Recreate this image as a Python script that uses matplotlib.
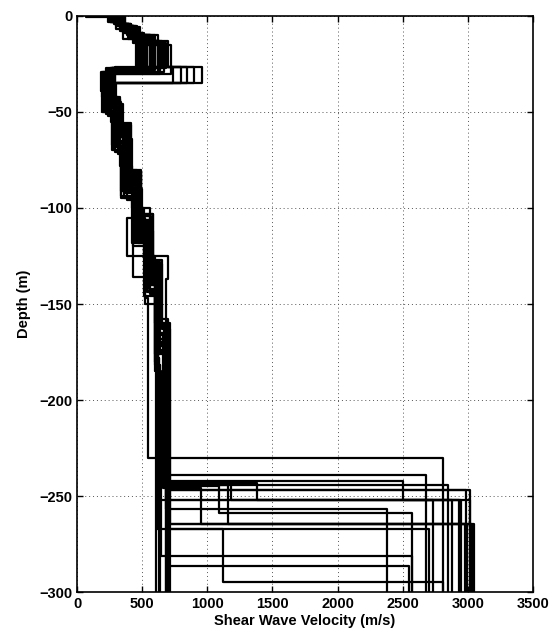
import numpy as np
import matplotlib
matplotlib.use("Agg")
import matplotlib.pyplot as plt

# layer tops (m below surface) and shear-wave velocities (m/s), one pair per profile
tops_01 = [0, 5, 10, 27, 35, 44, 60, 85, 105, 117, 136, 147, 230]
vs_01 = [320, 410, 600, 270, 240, 320, 380, 450, 520, 432, 525, 542, 2811]
tops_02 = [0, 4, 12, 28, 36, 48, 66, 88, 105, 125, 137, 196, 239]
vs_02 = [290, 390, 520, 250, 220, 300, 360, 470, 383, 700, 680, 650, 2679]
tops_03 = [0, 6, 14, 26.5, 35, 42, 58, 80, 100, 130, 160, 243, 252]
vs_03 = [350, 430, 480, 740, 260, 310, 390, 460, 560, 610, 620, 1380, 2876]
tops_04 = [0, 3, 9, 26.5, 35, 45, 62, 84, 108, 135, 170, 244]
vs_04 = [260, 360, 500, 795, 280, 340, 400, 480, 570, 630, 670, 2848]
tops_05 = [0, 5, 11, 26.5, 35, 46, 64, 90, 112, 140, 175, 247]
vs_05 = [330, 440, 560, 845, 300, 350, 420, 500, 580, 640, 690, 2990]
tops_06 = [0, 4, 10, 26.5, 35, 43, 57, 82, 104, 128, 165, 246, 264.7]
vs_06 = [310, 400, 620, 895, 270, 330, 410, 490, 560, 620, 660, 951, 3049]
tops_07 = [0, 6, 13, 26.5, 35, 44, 60, 86, 110, 138, 172, 252]
vs_07 = [340, 450, 700, 958, 250, 300, 370, 460, 540, 610, 680, 2952]
tops_08 = [0, 5, 12, 28, 37, 47, 65, 90, 115, 140, 180, 267, 295]
vs_08 = [300, 420, 580, 230, 210, 290, 350, 440, 530, 600, 615, 1120, 2811]
tops_09 = [0, 4, 10, 29, 38, 50, 70, 95, 120, 150, 190, 286.5]
vs_09 = [280, 380, 540, 190, 200, 280, 340, 430, 520, 610, 695, 2551]
tops_10 = [0, 5, 14, 30, 40, 52, 72, 96, 118, 145, 185, 281]
vs_10 = [370, 460, 640, 260, 240, 310, 380, 470, 560, 620, 644, 2574]
tops_11 = [0, 3, 8, 27, 33, 42, 55, 78, 100, 125, 160, 245, 259]
vs_11 = [240, 330, 470, 220, 190, 260, 330, 420, 510, 600, 665, 1086, 2574]
tops_12 = [0, 4, 11, 28, 36, 45, 63, 87, 109, 132, 168, 244, 264.7]
vs_12 = [310, 410, 590, 240, 230, 300, 370, 450, 550, 630, 700, 1155, 2996]
tops_13 = [0, 5, 9, 27, 34, 44, 58, 83, 106, 131, 162, 243, 252]
vs_13 = [330, 430, 510, 280, 250, 320, 400, 480, 570, 640, 690, 1181, 2932]
tops_14 = [0, 6, 15, 29, 37, 48, 68, 92, 114, 142, 178, 242, 252]
vs_14 = [360, 470, 670, 200, 220, 300, 360, 460, 550, 620, 630, 2505, 3016]
tops_15 = [0, 4, 10, 28, 35, 47, 63, 89, 113, 137, 175, 257]
vs_15 = [300, 400, 560, 260, 230, 290, 360, 440, 530, 610, 680, 2377]
tops_16 = [0, 3, 12, 26.5, 34, 42, 56, 80, 103, 129, 163, 264.7]
vs_16 = [250, 350, 600, 290, 260, 330, 410, 490, 580, 650, 710, 2978]
tops_17 = [0, 5, 13, 27, 35, 46, 61, 85, 108, 134, 170, 267]
vs_17 = [320, 440, 650, 250, 210, 280, 350, 450, 540, 620, 700, 2704]
tops_18 = [0, 4, 11, 28, 37, 49, 67, 91, 116, 143, 182, 252]
vs_18 = [290, 410, 530, 230, 200, 270, 340, 430, 520, 600, 635, 2735]
tops_19 = [0, 0.8, 7, 27, 34, 43, 59, 84, 107, 133, 166, 247]
vs_19 = [65, 300, 450, 270, 240, 310, 390, 470, 560, 630, 690, 3016]
tops_20 = [0, 5, 12, 28, 36, 45, 62, 86, 111, 138, 174, 264.7]
vs_20 = [340, 420, 600, 250, 220, 300, 370, 460, 550, 620, 690, 3030]
tops_21 = [0, 4, 10, 27, 35, 44, 60, 84, 106, 130, 165]
vs_21 = [300, 400, 560, 260, 240, 310, 380, 470, 560, 630, 690]
tops_22 = [0, 5, 13, 29, 38, 48, 66, 90, 112, 140, 178]
vs_22 = [330, 450, 620, 220, 200, 280, 350, 440, 530, 610, 625]
tops_23 = [0, 3, 9, 28, 36, 46, 63, 87, 110, 135, 172]
vs_23 = [270, 370, 500, 240, 220, 300, 360, 450, 540, 620, 700]
tops_24 = [0, 6, 14, 27, 34, 44, 58, 82, 104, 128, 160]
vs_24 = [360, 460, 680, 280, 260, 330, 400, 480, 570, 640, 710]
tops_25 = [0, 4, 11, 29, 39, 50, 70, 94, 118, 146, 185]
vs_25 = [290, 400, 540, 180, 190, 270, 340, 420, 510, 600, 605]
tops_26 = [0, 5, 12, 28, 36, 45, 62, 86, 108, 134, 168]
vs_26 = [310, 420, 590, 260, 230, 300, 380, 460, 550, 630, 680]
tops_27 = [0, 3, 8, 27, 35, 43, 57, 81, 103, 127, 158]
vs_27 = [250, 340, 460, 290, 250, 320, 400, 490, 580, 650, 700]
tops_28 = [0, 6, 15, 30, 40, 51, 71, 95, 117, 144, 182]
vs_28 = [370, 480, 720, 210, 220, 290, 360, 450, 540, 610, 640]
tops_29 = [0, 4, 10, 28, 37, 47, 65, 89, 113, 139, 176]
vs_29 = [320, 410, 570, 230, 210, 290, 350, 440, 530, 600, 690]
tops_30 = [0, 5, 13, 27, 35, 45, 61, 85, 109, 136, 171]
vs_30 = [340, 440, 640, 270, 240, 310, 390, 470, 560, 620, 680]

max_depth = 300

profiles = [
    (tops_01, vs_01), (tops_02, vs_02), (tops_03, vs_03), (tops_04, vs_04),
    (tops_05, vs_05), (tops_06, vs_06), (tops_07, vs_07), (tops_08, vs_08),
    (tops_09, vs_09), (tops_10, vs_10), (tops_11, vs_11), (tops_12, vs_12),
    (tops_13, vs_13), (tops_14, vs_14), (tops_15, vs_15), (tops_16, vs_16),
    (tops_17, vs_17), (tops_18, vs_18), (tops_19, vs_19), (tops_20, vs_20),
    (tops_21, vs_21), (tops_22, vs_22), (tops_23, vs_23), (tops_24, vs_24),
    (tops_25, vs_25), (tops_26, vs_26), (tops_27, vs_27), (tops_28, vs_28),
    (tops_29, vs_29), (tops_30, vs_30),
]

plt.rcParams['font.family'] = ['Liberation Sans', 'DejaVu Sans']
plt.rcParams['font.weight'] = 'bold'

fig = plt.figure(figsize=(5.55, 6.38), dpi=100)
ax = fig.add_axes([0.139, 0.072, 0.821, 0.903])

# each profile drawn as a staircase: vertical per layer, horizontal at interfaces
for tops, vs in profiles:
    bots = list(tops[1:]) + [max_depth]
    xs, ys = [], []
    for t, b, v in zip(tops, bots, vs):
        xs += [v, v]
        ys += [-t, -b]
    ax.plot(xs, ys, color='black', lw=1.6)

ax.set_xlim(0, 3500)
ax.set_ylim(-300, 0)
ax.set_xticks(np.arange(0, 3501, 500))
ax.set_yticks(np.arange(-300, 1, 50))
ax.grid(True, color='#555555', ls=(0, (1, 3)), lw=0.7)
ax.tick_params(direction='in', top=True, right=True, labelsize=10.5, width=1, length=4)
for lab in ax.get_xticklabels() + ax.get_yticklabels():
    lab.set_fontweight('bold')
for s in ax.spines.values():
    s.set_linewidth(1.2)
ax.set_xlabel('Shear Wave Velocity (m/s)', fontsize=10.5, fontweight='bold', labelpad=2)
ax.set_ylabel('Depth (m)', fontsize=10.5, fontweight='bold', labelpad=6)

fig.savefig('out.png', dpi=100)
